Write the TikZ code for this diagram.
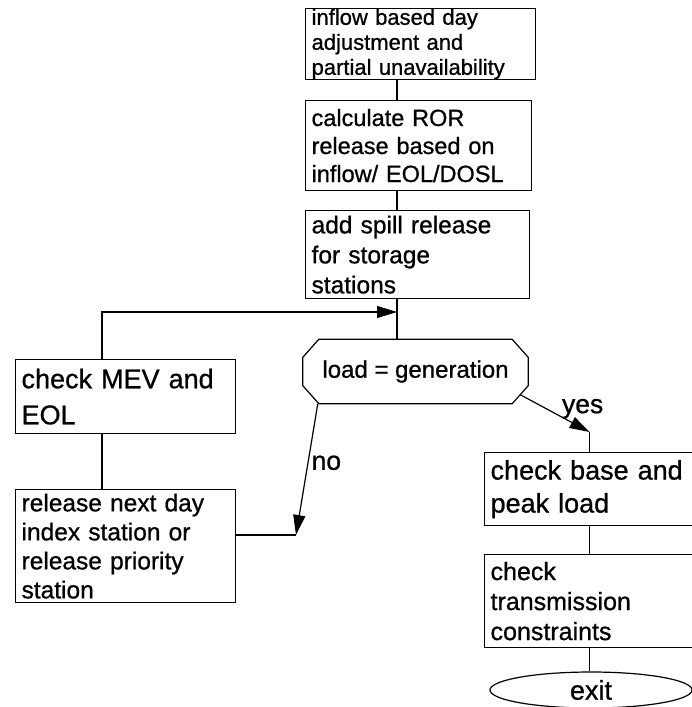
\documentclass[tikz,border=0pt]{standalone}
\usepackage{fontspec}
\setmainfont[UprightFeatures={FakeBold=0.8}]{Liberation Sans}
\usetikzlibrary{shapes.geometric, positioning, arrows.meta, calc}

\begin{document}
\begin{tikzpicture}[
    x=1pt, y=-1pt,
    box/.style={rectangle, draw, line width=1.2pt, align=left, anchor=north west, inner xsep=6pt, inner ysep=0pt},
    decision/.style={rectangle, minimum width=225pt, minimum height=64pt, inner sep=0pt, font=\fontsize{24}{29}\selectfont},
    terminal/.style={ellipse, draw, line width=1.2pt, minimum width=202pt, minimum height=36pt, inner sep=0pt, font=\fontsize{27}{30}\selectfont},
    line/.style={draw, line width=1.2pt},
    arrowline/.style={line, -{Triangle[length=20pt, width=12pt]}},
    lbl/.style={font=\fontsize{26.5}{30}\selectfont, inner sep=3pt}
]
    \useasboundingbox (0,0) rectangle (691,707);

    % Nodes
    \node [box, text width=218pt, minimum height=71pt, font=\fontsize{22}{25}\selectfont] (flow) at (305,8) {inflow based day\\adjustment and\\partial unavailability};
    \node [box, text width=214pt, minimum height=90pt, font=\fontsize{23.5}{28}\selectfont] (ror) at (305,100) {calculate ROR\\release based on\\inflow/ EOL/DOSL};
    \node [box, text width=212pt, minimum height=88pt, font=\fontsize{24.5}{30}\selectfont] (spill) at (305,210) {add spill release\\for storage\\stations};
    \node [decision] (gen) at (415.5,371.5) {load = generation};
    \node [box, text width=208pt, minimum height=74pt, font=\fontsize{27}{36}\selectfont] (mev) at (15,359) {check MEV and\\EOL};
    \node [box, text width=208pt, minimum height=113pt, font=\fontsize{24.5}{29}\selectfont] (release) at (15,489) {release next day\\index station or\\release priority\\station};
    \node [box, text width=198pt, minimum height=73pt, font=\fontsize{27}{33}\selectfont] (base) at (484,452) {check base and\\peak load};
    \node [box, text width=198pt, minimum height=93pt, font=\fontsize{25}{30}\selectfont] (trans) at (484,554) {check\\transmission\\constraints};
    \node [terminal] (exit) at (591,690) {exit};

    % Octagon round the decision
    \draw [line] ($(gen.north west)+(16,0)$) -- ($(gen.north east)+(-16,0)$) -- ($(gen.north east)+(0,18)$)
        -- ($(gen.south east)+(0,-18)$) -- ($(gen.south east)+(-16,0)$) -- ($(gen.south west)+(16,0)$)
        -- ($(gen.south west)+(0,-18)$) -- ($(gen.north west)+(0,18)$) -- cycle;

    % Spines and bends
    \coordinate (spine) at (397,0);
    \coordinate (lspine) at (102,0);
    \coordinate (merge) at (397,312);
    \coordinate (nobend) at (296,535);
    \coordinate (yesbend) at (base.north |- 0,432);

    % Main vertical path
    \draw [line] (flow.south -| spine) -- (ror.north -| spine);
    \draw [line] (ror.south -| spine) -- (spill.north -| spine);
    \draw [line] (spill.south -| spine) -- (gen.north -| spine);

    % no branch
    \draw [arrowline] ($(gen.south west)+(15,0)$) -- node[lbl, pos=0.45, right] {no} (nobend);
    \draw [line] (nobend) -- (nobend -| release.east);
    \draw [line] (release.north -| lspine) -- (mev.south -| lspine);
    \draw [arrowline] (mev.north -| lspine) |- (merge);

    % yes branch
    \draw [arrowline] ($(gen.south east)+(-8,-9)$) -- node[lbl, pos=0.9, above=6pt] {yes} (yesbend);
    \draw [line] (yesbend) -- (base.north);
    \draw [line] (base.south) -- (trans.north);
    \draw [line] (trans.south) -- (trans.south |- exit.north);

\end{tikzpicture}
\end{document}
